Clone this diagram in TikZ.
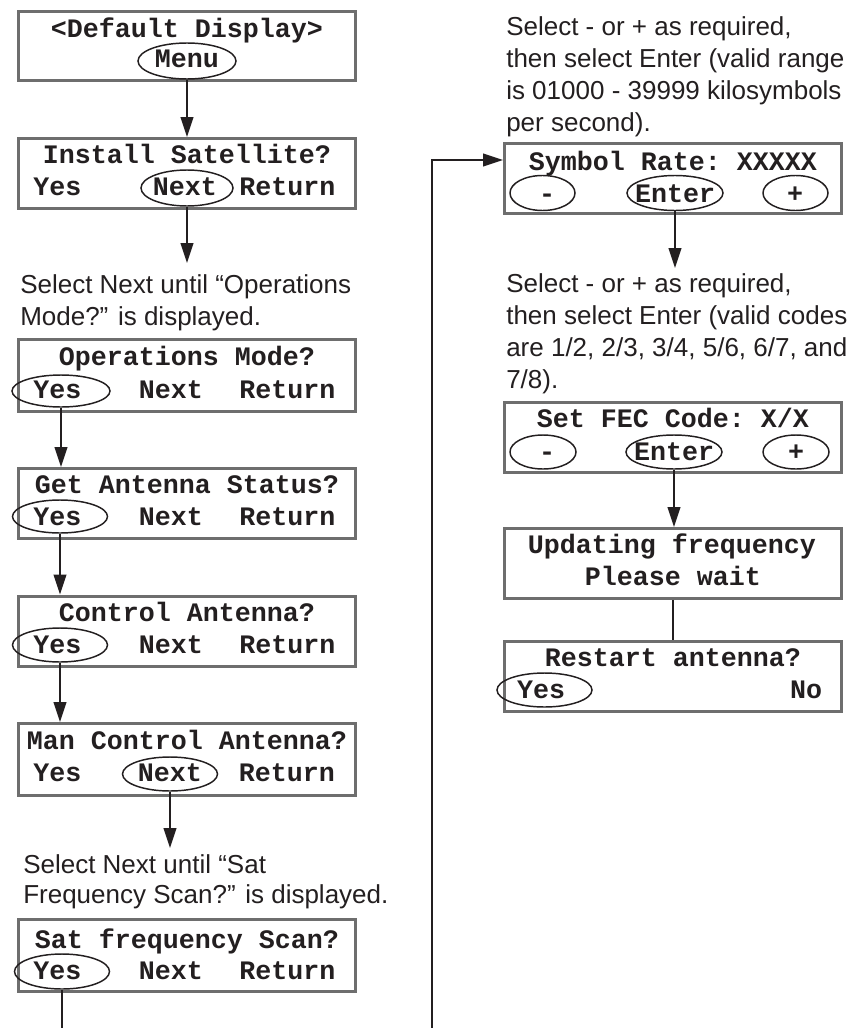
\documentclass[tikz,border=0pt]{standalone}
\usepackage{fontspec}
\setmainfont{Liberation Sans}
\setmonofont{Liberation Mono}
\usetikzlibrary{arrows.meta,shapes.geometric}
\definecolor{boxgray}{RGB}{110,110,110}
\definecolor{ink}{RGB}{35,31,32}
\begin{document}
\begin{tikzpicture}[x=0.75pt,y=-0.75pt,
  screen/.style={draw=boxgray,line width=2.25pt,rectangle,fill=white,inner sep=0pt,
    minimum width=252.75pt,minimum height=52.5pt},
  lcd/.style={font=\ttfamily\bfseries\fontsize{20}{24}\selectfont,text=ink,
    text height=15pt,text depth=2.2pt,inner sep=0pt,anchor=center},
  oval/.style={draw=ink,ellipse,line width=1.1pt,inner sep=0pt},
  note/.style={font=\fontsize{19.5}{24}\selectfont,text=ink,align=left,
    anchor=north west,inner sep=0pt},
  arr/.style={draw=ink,line width=1.5pt,-{Triangle[length=15pt,width=9.5pt]}},
  link/.style={draw=ink,line width=1.5pt}]
\useasboundingbox (0,0) rectangle (858,1028);

% ---------------- left column ----------------
\node[screen,minimum height=51.75pt] (b1) at (187,46) {};
\node[lcd] (b1t) at (187,28.5) {<Default Display>};
\node[oval,minimum width=73.5pt,minimum height=27pt] (b1m) at (187,61) {};
\node[lcd] (b1mt) at (187,59) {Menu};

\node[screen] (b2) at (187,173.5) {};
\node[lcd] (b2t) at (187,155) {Install Satellite?};
\node[oval,minimum width=69pt,minimum height=27pt] (b2n) at (187,188) {};
\node[lcd] (b2y) at (57.5,187) {Yes};
\node[lcd] (b2nt) at (185,187) {Next};
\node[lcd] (b2r) at (287.5,187) {Return};

\coordinate (c1) at (187,263);
\node[note] (t1) at (20,274.5) {Select Next until “Operations\\Mode?” is displayed.};

\node[screen,minimum height=54pt] (b3) at (187,375.5) {};
\node[lcd] (b3t) at (187,357) {Operations Mode?};
\node[oval,minimum width=73.5pt,minimum height=24pt] (b3yo) at (61,391) {};
\node[lcd] (b3y) at (57.5,390) {Yes};
\node[lcd] (b3n) at (171,390) {Next};
\node[lcd] (b3r) at (287.5,390) {Return};

\node[screen] (b4) at (187,503.5) {};
\node[lcd] (b4t) at (187,485) {Get Antenna Status?};
\node[oval,minimum width=71.25pt,minimum height=24.75pt] (b4yo) at (60,516.5) {};
\node[lcd] (b4y) at (57.5,517) {Yes};
\node[lcd] (b4n) at (171,517) {Next};
\node[lcd] (b4r) at (287.5,517) {Return};

\node[screen] (b5) at (187,631) {};
\node[lcd] (b5t) at (187,613) {Control Antenna?};
\node[oval,minimum width=71.25pt,minimum height=25.5pt] (b5yo) at (60,645) {};
\node[lcd] (b5y) at (57.5,645) {Yes};
\node[lcd] (b5n) at (171,645) {Next};
\node[lcd] (b5r) at (287.5,645) {Return};

\node[screen,minimum height=54pt] (b6) at (187,759.5) {};
\node[lcd] (b6t) at (187,741) {Man Control Antenna?};
\node[oval,minimum width=71.25pt,minimum height=25.5pt] (b6no) at (170,774) {};
\node[lcd] (b6y) at (57.5,773) {Yes};
\node[lcd] (b6n) at (170,773) {Next};
\node[lcd] (b6r) at (287,773) {Return};

\coordinate (c2) at (170,848);
\node[note,font=\fontsize{19.5}{22.5}\selectfont] (t2) at (23,854.5) {Select Next until “Sat\\Frequency Scan?” is displayed.};

\node[screen,minimum height=54pt] (b7) at (187,955.5) {};
\node[lcd] (b7t) at (187,940) {Sat frequency Scan?};
\node[oval,minimum width=71.25pt,minimum height=26.25pt] (b7yo) at (62,971.5) {};
\node[lcd] (b7y) at (57.5,971) {Yes};
\node[lcd] (b7n) at (171,971) {Next};
\node[lcd] (b7r) at (287.5,971) {Return};
\coordinate (c3) at (62,1028);

% ---------------- right column ----------------
\node[note] (t3) at (506,16.5) {Select - or + as required,\\then select Enter (valid range\\is 01000 - 39999 kilosymbols\\per second).};

\node[screen] (r1) at (673,178.5) {};
\node[lcd] (r1t) at (673,162) {Symbol Rate: XXXXX};
\node[oval,minimum width=48.75pt,minimum height=26.25pt] (r1m) at (542.5,193) {};
\node[oval,minimum width=72pt,minimum height=26.25pt] (r1e) at (675,193) {};
\node[oval,minimum width=48.75pt,minimum height=26.25pt] (r1p) at (795.5,193) {};
\node[lcd] (r1mt) at (547,194) {-};
\node[lcd] (r1et) at (675,194) {Enter};
\node[lcd] (r1pt) at (795,194) {+};

\coordinate (c4) at (675,268);
\node[note] (t4) at (506,273.5) {Select - or + as required,\\then select Enter (valid codes\\are 1/2, 2/3, 3/4, 5/6, 6/7, and\\7/8).};

\node[screen] (r2) at (673,437) {};
\node[lcd] (r2t) at (673,419) {Set FEC Code: X/X};
\node[oval,minimum width=49.5pt,minimum height=25.5pt] (r2m) at (543,452) {};
\node[oval,minimum width=72pt,minimum height=25.5pt] (r2e) at (674,452) {};
\node[oval,minimum width=49.5pt,minimum height=25.5pt] (r2p) at (796,452) {};
\node[lcd] (r2mt) at (547,452) {-};
\node[lcd] (r2et) at (674,452) {Enter};
\node[lcd] (r2pt) at (796,452) {+};

\node[screen] (r3) at (673,563.5) {};
\node[lcd] (r3a) at (672,545) {Updating frequency};
\node[lcd] (r3b) at (673,577) {Please wait};

\node[screen] (r4) at (673,676.5) {};
\node[lcd] (r4t) at (673,658) {Restart antenna?};
\node[oval,minimum width=71.25pt,minimum height=25.5pt] (r4yo) at (544.5,690) {};
\node[lcd] (r4y) at (541,690) {Yes};
\node[lcd] (r4n) at (806,690) {No};

\coordinate (c5) at (432,1028);
\coordinate (c6) at (432,160);

% ---------------- connectors ----------------
\draw[arr] (b1m.south) -- (b2.north);
\draw[arr] (b2n.south) -- (c1);
\draw[arr] (b3yo.south) -- (b3yo.south |- b4.north);
\draw[arr] (b4yo.south) -- (b4yo.south |- b5.north);
\draw[arr] (b5yo.south) -- (b5yo.south |- b6.north);
\draw[arr] (b6no.south) -- (c2);
\draw[link] (b7yo.south) -- (c3);
\draw[arr] (c5) -- (c6) -- (c6 -| r1.west);
\draw[arr] (r1e.south) -- (c4);
\draw[arr] (r2e.south) -- (r2e.south |- r3.north);
\draw[link] (r3.south) -- (r4.north);
\end{tikzpicture}
\end{document}
